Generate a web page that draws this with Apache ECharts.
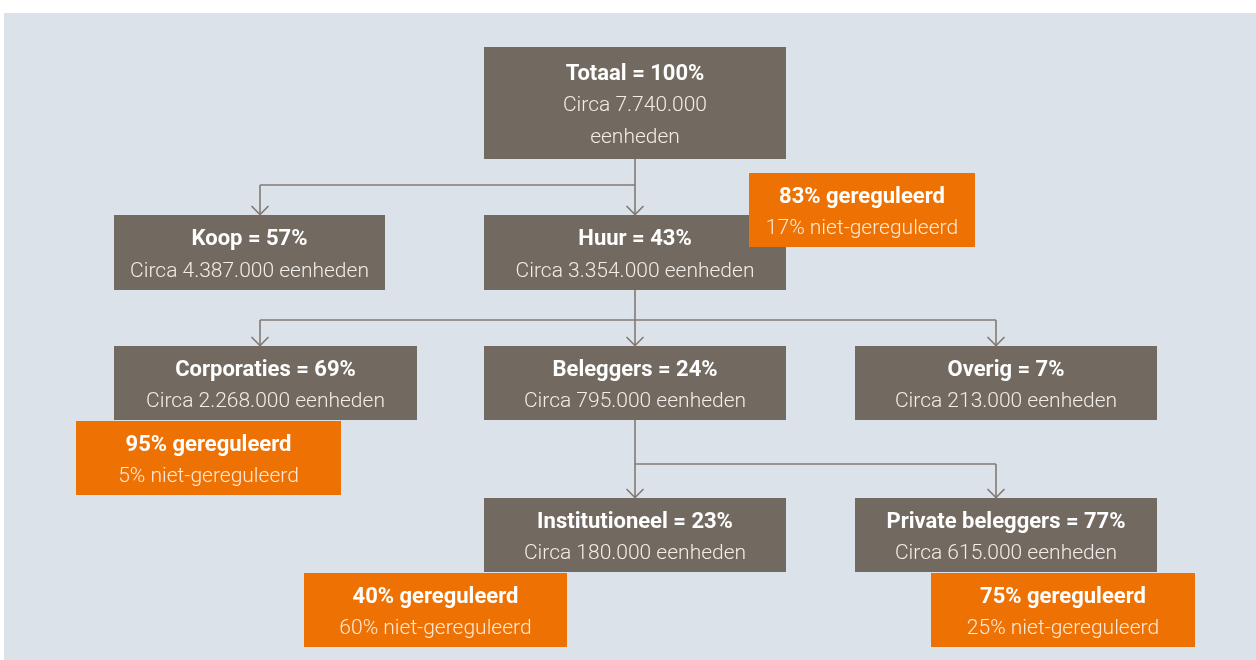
<!DOCTYPE html>
<html>
<head>
<meta charset="utf-8">
<script src="https://cdn.jsdelivr.net/npm/echarts@6/dist/echarts.min.js"></script>
<style>
html, body { margin: 0; padding: 0; background: #fff; }
#chart { width: 1256px; height: 660px; }
</style>
</head>
<body>
<div id="chart"></div>
<script>
// woningvoorraad, opgesplitst
var nodeNames = ['Totaal', 'Koop', 'Huur', 'Corporaties', 'Beleggers', 'Overig', 'Institutioneel', 'Private beleggers'];
var nodeShares = [100, 57, 43, 69, 24, 7, 23, 77];
var nodeUnits = ['7.740.000', '4.387.000', '3.354.000', '2.268.000', '795.000', '213.000', '180.000', '615.000'];
var nodeParents = [-1, 0, 0, 2, 2, 2, 4, 4];

// aandeel gereguleerd per segment
var regNodes = [2, 3, 6, 7];
var regShares = [83, 95, 40, 75];

// layout only (x, y, w, h in chart units)
var boxPos = [
  [484, 47, 302, 112], [114, 215, 271, 75], [484, 215, 302, 75],
  [114, 346, 303, 74], [484, 346, 302, 74], [855, 346, 302, 74],
  [484, 498, 302, 74], [855, 498, 302, 74]
];
var anchorX = [635, 260, 635, 260, 635, 996, 635, 996];
var busY = { 0: 185, 2: 320, 4: 464 };
var regPos = [[749, 173, 226, 74], [76, 421, 265, 74], [304, 573, 263, 74], [931, 573, 264, 74]];

var FONT = 'Roboto, "Liberation Sans", sans-serif';
var LINE = '#827a73';

var chart = echarts.init(document.getElementById('chart'));

function rect(api, b) {
  var p0 = api.coord([b[0], b[1]]);
  var p1 = api.coord([b[0] + b[2], b[1] + b[3]]);
  return { x: p0[0], y: p0[1], width: p1[0] - p0[0], height: p1[1] - p0[1] };
}

function textRich(color) {
  return {
    b: { fontFamily: FONT, fontWeight: 'bold', fontSize: 22, fill: '#ffffff', lineHeight: 32 },
    r: { fontFamily: FONT, fontWeight: 300, fontSize: 21, fill: color, lineHeight: 32 }
  };
}

function renderBox(params, api) {
  var i = params.dataIndex;
  var r = rect(api, boxPos[i]);
  var units = 'Circa ' + nodeUnits[i];
  var txt = '{b|' + nodeNames[i] + ' = ' + nodeShares[i] + '%}\n';
  if (nodeParents[i] < 0) txt += '{r|' + units + '}\n{r|eenheden}';
  else txt += '{r|' + units + ' eenheden}';
  return {
    type: 'group',
    children: [
      { type: 'rect', shape: r, style: { fill: '#726a61' } },
      {
        type: 'text', x: r.x + r.width / 2, y: r.y + r.height / 2 + 3,
        style: { text: txt, fill: '#ffffff', rich: textRich('#f1ede8'), align: 'center', verticalAlign: 'middle' }
      }
    ]
  };
}

function renderReg(params, api) {
  var i = params.dataIndex;
  var r = rect(api, regPos[i]);
  var txt = '{b|' + regShares[i] + '% gereguleerd}\n{r|' + (100 - regShares[i]) + '% niet-gereguleerd}';
  return {
    type: 'group',
    children: [
      { type: 'rect', shape: r, style: { fill: '#ee7203' } },
      {
        type: 'text', x: r.x + r.width / 2, y: r.y + r.height / 2 + 3,
        style: { text: txt, fill: '#ffffff', rich: textRich('#fde9d6'), align: 'center', verticalAlign: 'middle' }
      }
    ]
  };
}

function renderLinks(params, api) {
  var p = api.value(0);
  var kids = [];
  nodeParents.forEach(function (q, i) { if (q === p) kids.push(i); });
  var pb = boxPos[p];
  var by = busY[p];
  var xs = kids.map(function (k) { return anchorX[k]; }).concat([anchorX[p]]);
  var minX = Math.min.apply(null, xs), maxX = Math.max.apply(null, xs);
  var style = { stroke: LINE, lineWidth: 1.6, fill: null };
  var children = [];
  var a = api.coord([anchorX[p], pb[1] + pb[3]]);
  var b = api.coord([anchorX[p], by]);
  children.push({ type: 'line', shape: { x1: a[0], y1: a[1], x2: b[0], y2: b[1] }, style: style });
  var h0 = api.coord([minX, by]), h1 = api.coord([maxX, by]);
  children.push({ type: 'line', shape: { x1: h0[0], y1: h0[1], x2: h1[0], y2: h1[1] }, style: style });
  kids.forEach(function (k) {
    var t = api.coord([anchorX[k], by]);
    var e = api.coord([anchorX[k], boxPos[k][1]]);
    children.push({ type: 'line', shape: { x1: t[0], y1: t[1], x2: e[0], y2: e[1] }, style: style });
    children.push({
      type: 'polyline',
      shape: { points: [[e[0] - 8.5, e[1] - 9], [e[0], e[1] - 0.5], [e[0] + 8.5, e[1] - 9]] },
      style: style
    });
  });
  return { type: 'group', children: children };
}

var parentList = [];
nodeParents.forEach(function (q) { if (q >= 0 && parentList.indexOf(q) < 0) parentList.push(q); });

chart.setOption({
  backgroundColor: '#fff',
  animation: false,
  graphic: [{
    type: 'rect', left: 4, top: 13, z: -10,
    shape: { width: 1252, height: 647 },
    style: { fill: '#dbe2ea' }
  }],
  grid: { left: 0, right: 0, top: 0, bottom: 0 },
  xAxis: { type: 'value', min: 0, max: 1256, show: false },
  yAxis: { type: 'value', min: 0, max: 660, inverse: true, show: false },
  series: [
    {
      type: 'custom', renderItem: renderLinks, z: 1,
      data: parentList.map(function (p) { return [p]; })
    },
    {
      type: 'custom', renderItem: renderBox, z: 2,
      data: nodeNames.map(function (n, i) { return [i, nodeShares[i]]; })
    },
    {
      type: 'custom', renderItem: renderReg, z: 3,
      data: regNodes.map(function (n, i) { return [n, regShares[i]]; })
    }
  ]
});
</script>
</body>
</html>
